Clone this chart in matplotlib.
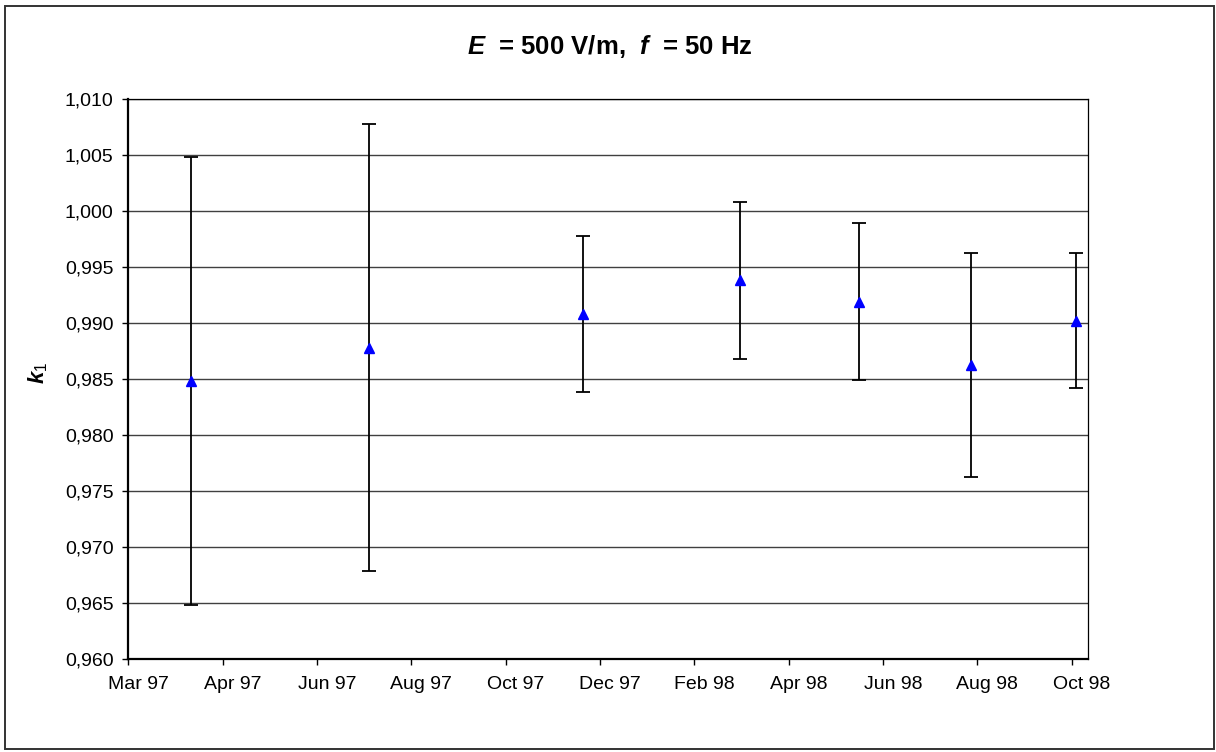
import datetime as dt

import matplotlib
matplotlib.use("Agg")
import matplotlib.pyplot as plt
import matplotlib.dates as mdates
from matplotlib.patches import Rectangle
from matplotlib.ticker import FuncFormatter
from matplotlib.transforms import ScaledTranslation

plt.rcParams["font.family"] = ["Liberation Sans", "DejaVu Sans"]
plt.rcParams["mathtext.fontset"] = "custom"
plt.rcParams["mathtext.rm"] = "Liberation Sans"
plt.rcParams["mathtext.it"] = "Liberation Sans:italic"
plt.rcParams["mathtext.bf"] = "Liberation Sans:bold"
plt.rcParams["mathtext.bfit"] = "Liberation Sans:bold:italic"

# Measurement dates, correction factor k1 and its uncertainty
dates = [
    dt.date(1997, 4, 10),
    dt.date(1997, 8, 1),
    dt.date(1997, 12, 15),
    dt.date(1998, 3, 25),
    dt.date(1998, 6, 9),
    dt.date(1998, 8, 19),
    dt.date(1998, 10, 25),
]
k_values = [0.9848, 0.9878, 0.9908, 0.9938, 0.9919, 0.9862, 0.9902]
k_uncert = [0.0200, 0.0200, 0.0070, 0.0070, 0.0070, 0.0100, 0.0060]

# Time axis: starts 1 Mar 1997, major unit 60 days, ends 1 Nov 1998
axis_start = dt.date(1997, 3, 1)
axis_end = dt.date(1998, 11, 1)
tick_step_days = 60
n_ticks = 11
y_ticks = [0.960, 0.965, 0.970, 0.975, 0.980, 0.985, 0.990, 0.995, 1.000, 1.005, 1.010]

W, H = 1216, 752
fig = plt.figure(figsize=(W / 100, H / 100), dpi=100)
fig.patch.set_facecolor("white")

# chart-area border
fig.patches.append(Rectangle((5 / W, 1 - 749 / H), (1214 - 5) / W, (749 - 6) / H,
                             transform=fig.transFigure, fill=False,
                             edgecolor="#333333", linewidth=1.4, zorder=0))

ax = fig.add_axes([128.3 / W, 1 - 658.7 / H, (1087.5 - 128.3) / W, (658.7 - 99) / H])

ax.errorbar(dates, k_values, yerr=k_uncert, fmt="none", ecolor="black",
            elinewidth=1.3, capsize=5, capthick=1.3, zorder=3)
ax.plot(dates, k_values, linestyle="none", marker="^", color="#0000FF",
        markersize=7.5, zorder=4)

ax.set_xlim(axis_start, axis_end)
ax.set_ylim(y_ticks[0], y_ticks[-1])

tick_dates = [axis_start + dt.timedelta(days=tick_step_days * i) for i in range(n_ticks)]
ax.set_xticks(tick_dates)
ax.xaxis.set_major_formatter(mdates.DateFormatter("%b %y"))
ax.set_yticks(y_ticks)
ax.yaxis.set_major_formatter(FuncFormatter(lambda v, p: f"{v:.3f}".replace(".", ",")))

ax.yaxis.grid(True, color="#404040", linewidth=1.0)
ax.set_axisbelow(True)

for side in ("top", "right"):
    ax.spines[side].set_linewidth(0.9)
for side in ("left", "bottom"):
    ax.spines[side].set_linewidth(1.6)

ax.tick_params(axis="both", direction="out", length=4.5, width=1.0,
               labelsize=14, colors="black")
ax.tick_params(axis="x", pad=8)
ax.tick_params(axis="y", pad=6)

shift = ScaledTranslation(10 / 100, 0, fig.dpi_scale_trans)
for lbl in ax.get_xticklabels():
    lbl.set_transform(lbl.get_transform() + shift)

fig.text(610 / W, 1 - 47 / H, r"$\mathbfit{E}$  = 500 V/m,  $\mathbfit{f}$  = 50 Hz",
         ha="center", va="center", fontsize=18.5, fontweight="bold")
fig.text(38 / W, 1 - 373 / H, r"$\mathbfit{k}_{\mathregular{1}}$",
         ha="center", va="center", rotation=90, fontsize=16)

fig.savefig("out.png", dpi=100, facecolor="white")
